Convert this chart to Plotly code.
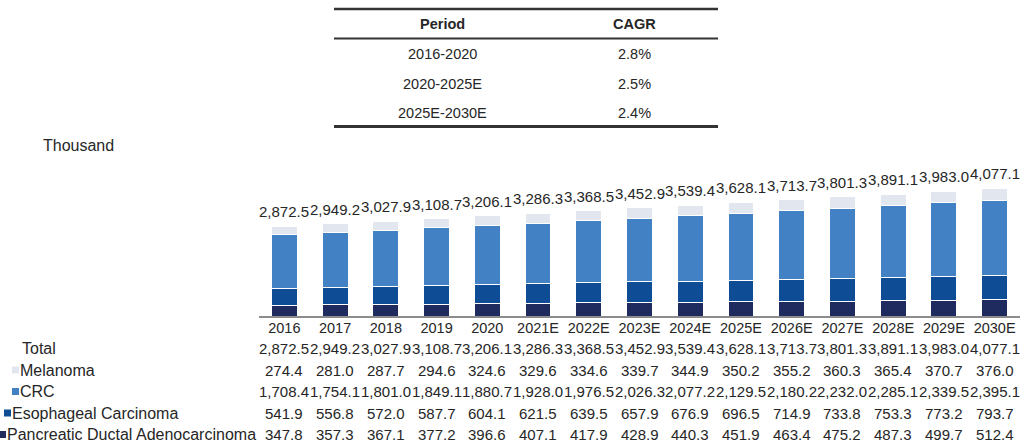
import plotly.graph_objects as go

# Dados do grafico (mil casos)
anos = ["2016", "2017", "2018", "2019", "2020", "2021E", "2022E", "2023E",
        "2024E", "2025E", "2026E", "2027E", "2028E", "2029E", "2030E"]
total = [2872.5, 2949.2, 3027.9, 3108.7, 3206.1, 3286.3, 3368.5, 3452.9,
         3539.4, 3628.1, 3713.7, 3801.3, 3891.1, 3983.0, 4077.1]
melanoma = [274.4, 281.0, 287.7, 294.6, 324.6, 329.6, 334.6, 339.7,
            344.9, 350.2, 355.2, 360.3, 365.4, 370.7, 376.0]
crc = [1708.4, 1754.1, 1801.0, 1849.1, 1880.7, 1928.0, 1976.5, 2026.3,
       2077.2, 2129.5, 2180.2, 2232.0, 2285.1, 2339.5, 2395.1]
esofago = [541.9, 556.8, 572.0, 587.7, 604.1, 621.5, 639.5, 657.9,
           676.9, 696.5, 714.9, 733.8, 753.3, 773.2, 793.7]
pancreas = [347.8, 357.3, 367.1, 377.2, 396.6, 407.1, 417.9, 428.9,
            440.3, 451.9, 463.4, 475.2, 487.3, 499.7, 512.4]

periodos = ["2016-2020", "2020-2025E", "2025E-2030E"]
cagr = ["2.8%", "2.5%", "2.4%"]

LARGURA, ALTURA = 1020, 445
FONTE = "Arial, Liberation Sans, sans-serif"
COR_TEXTO = "#262626"
TAM = 14.5
TAM_NUM = 15
TAM_ROTULO = 16

# (nome, valores, cor) de baixo para cima
SERIES = [
    ("Pancreatic Ductal Adenocarcinoma", pancreas, "#1f2a5e"),
    ("Esophageal Carcinoma", esofago, "#0e4c96"),
    ("CRC", crc, "#4181c4"),
    ("Melanoma", melanoma, "#e2e6ee"),
]


def py(pixel):
    """Converte linha em pixel para coordenada paper."""
    return 1 - pixel / ALTURA


def px(pixel):
    return pixel / LARGURA


def texto(x, y, conteudo, xref="paper", yref="paper", xanchor="center",
          yanchor="middle", tamanho=TAM, **extra):
    return dict(x=x, y=y, xref=xref, yref=yref, text=conteudo,
                showarrow=False, xanchor=xanchor, yanchor=yanchor,
                font={"size": tamanho, "color": COR_TEXTO}, **extra)


fig = go.Figure()
for nome, valores, cor in SERIES:
    fig.add_trace(go.Bar(
        x=anos, y=valores, name=nome,
        marker={"color": cor, "line": {"color": "white", "width": 1}},
    ))

anotacoes = []
# rotulos de total acima das barras (x = indice da categoria)
for indice, valor in enumerate(total):
    anotacoes.append(texto(indice, valor, f"{valor:,.1f}", xref="x",
                           yref="y", yanchor="bottom", yshift=4,
                           tamanho=TAM_NUM))

# tabela de dados abaixo do eixo
linhas_tabela = [("Total", total, None)] + [
    (nome, valores, cor) for nome, valores, cor in reversed(SERIES)
]
y_linhas = [348.5, 370, 391.5, 413, 434.5]
x_rotulos = [20, 18, 18, 10, 5]
for (nome, valores, cor), ylin, xrot in zip(linhas_tabela, y_linhas, x_rotulos):
    anotacoes.append(texto(px(xrot), py(ylin), nome, xanchor="left",
                           tamanho=TAM_ROTULO))
    if cor is not None:
        fig.add_shape(
            type="rect", xref="paper", yref="paper",
            x0=px(xrot - 6), x1=px(xrot + 1),
            y0=py(ylin + 3.5), y1=py(ylin - 3.5),
            fillcolor=cor, line={"width": 0},
        )
    for indice, valor in enumerate(valores):
        anotacoes.append(texto(indice, py(ylin), f"{valor:,.1f}", xref="x",
                               tamanho=TAM_NUM))

# tabela de CAGR no topo
x_col1, x_col2 = px(442), px(634)
anotacoes.append(texto(x_col1, py(24), "<b>Period</b>"))
anotacoes.append(texto(x_col2, py(24), "<b>CAGR</b>"))
for periodo, taxa, ylin in zip(periodos, cagr, [54, 83.5, 113]):
    anotacoes.append(texto(x_col1, py(ylin), periodo))
    anotacoes.append(texto(x_col2, py(ylin), taxa))
for ylin, esp in ((9, 2.5), (38.5, 2), (126.5, 3)):
    fig.add_shape(type="line", xref="paper", yref="paper",
                  x0=px(334), x1=px(718), y0=py(ylin), y1=py(ylin),
                  line={"color": "#333333", "width": esp})

anotacoes.append(texto(px(41), py(145), "Thousand", xanchor="left",
                       tamanho=16))

fig.update_layout(
    width=LARGURA, height=ALTURA,
    margin={"l": 0, "r": 0, "t": 0, "b": 0},
    barmode="stack", bargap=0.49,
    showlegend=False,
    paper_bgcolor="white", plot_bgcolor="white",
    font={"family": FONTE, "color": COR_TEXTO},
    annotations=anotacoes,
    xaxis={"type": "category", "domain": [px(259), 1],
           "range": [-0.5, len(anos) - 0.5], "showline": True,
           "linecolor": "#8c8c8c", "linewidth": 2, "ticks": "",
           "tickfont": {"size": TAM}, "ticklabelstandoff": -2,
           "showgrid": False},
    yaxis={"domain": [py(316), py(160)], "range": [0, 4981],
           "visible": False, "showgrid": False},
)

fig.write_html("out.html", config={"displayModeBar": False},
               post_script="document.body.style.margin='0';")
